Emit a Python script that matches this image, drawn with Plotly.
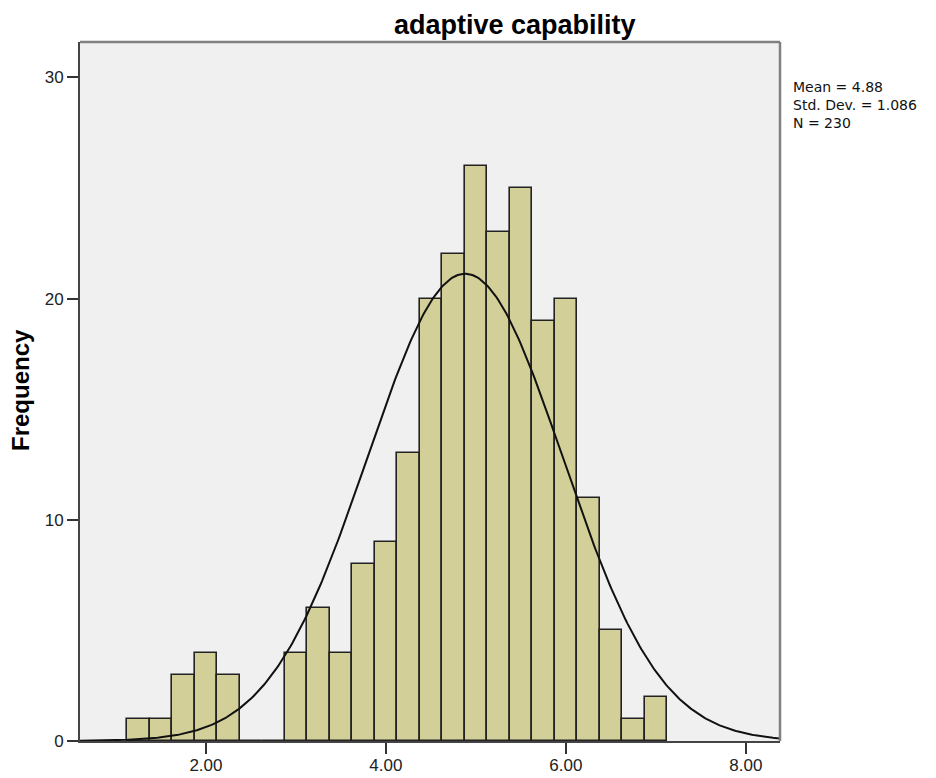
import numpy as np
import plotly.graph_objects as go

# ---- data ----
bin_left_edges = [1.125, 1.375, 1.625, 1.875, 2.125, 2.375, 2.625, 2.875, 3.125, 3.375,
                  3.625, 3.875, 4.125, 4.375, 4.625, 4.875, 5.125, 5.375, 5.625, 5.875,
                  6.125, 6.375, 6.625, 6.875]
frequencies = [1, 1, 3, 4, 3, 0, 0, 4, 6, 4,
               8, 9, 13, 20, 22, 26, 23, 25, 19, 20,
               11, 5, 1, 2]
bin_width = 0.25
mean_val = 4.88
std_val = 1.086
n_val = 230
x_tick_vals = [2, 4, 6, 8]
x_tick_text = ["2.00", "4.00", "6.00", "8.00"]
y_tick_vals = [0, 10, 20, 30]
title_text = "adaptive capability"
y_title = "Frequency"
stats_lines = ["Mean = 4.88", "Std. Dev. = 1.086", "N = 230"]

x_range = [0.6, 8.38]
y_range = [0, 31.6]

centers = [e + bin_width / 2 for e in bin_left_edges]

xc = np.linspace(x_range[0], x_range[1], 400)
yc = n_val * bin_width / (std_val * np.sqrt(2 * np.pi)) * np.exp(-0.5 * ((xc - mean_val) / std_val) ** 2)

FONT = "Liberation Sans, Arial, sans-serif"

fig = go.Figure()
fig.add_trace(go.Bar(
    x=centers, y=frequencies, width=bin_width,
    marker=dict(color="#D3CF98", line=dict(color="#222222", width=1.6)),
    showlegend=False, hoverinfo="x+y",
))
fig.add_trace(go.Scatter(
    x=xc, y=yc, mode="lines", line=dict(color="#111111", width=2),
    showlegend=False, hoverinfo="skip",
))

# page has an 8px body margin; size the figure so its plot area lands where the reference has it
OFF = 8
W, H = 936 - 2 * OFF, 778 - OFF
# target plot area in page pixels: x 80..780, y 42..741
L = 80 - OFF
R = W - (780 - OFF)
T = 42 - OFF
B = H - (741 - OFF)
pw, ph = W - L - R, H - T - B

def px_to_paper_x(px):
    return (px - OFF - L) / pw

def px_to_paper_y(py):
    return (H - B - (py - OFF)) / ph

annotations = [
    dict(text="<b>" + title_text + "</b>", x=px_to_paper_x(515), y=px_to_paper_y(25),
         xref="paper", yref="paper", showarrow=False, xanchor="center", yanchor="middle",
         font=dict(size=27, color="#000000", family=FONT)),
    dict(text="<b>" + y_title + "</b>", x=px_to_paper_x(21), y=px_to_paper_y(390),
         xref="paper", yref="paper", showarrow=False, xanchor="center", yanchor="middle",
         textangle=-90, font=dict(size=24, color="#000000", family=FONT)),
    dict(text="<br>".join(stats_lines), x=px_to_paper_x(791), y=px_to_paper_y(77),
         xref="paper", yref="paper", showarrow=False, xanchor="left", yanchor="top",
         align="left", font=dict(size=14, color="#111111", family="DejaVu Sans, sans-serif")),
]

shapes = [
    dict(type="line", xref="paper", yref="paper", x0=0, x1=1, y0=1, y1=1,
         line=dict(color="#808080", width=2.5)),
    dict(type="line", xref="paper", yref="paper", x0=1, x1=1, y0=0, y1=1,
         line=dict(color="#808080", width=2.5)),
]

fig.update_layout(
    width=W, height=H,
    margin=dict(l=L, r=R, t=T, b=B, pad=0, autoexpand=False),
    paper_bgcolor="#FFFFFF", plot_bgcolor="#F0F0F0",
    bargap=0,
    font=dict(family=FONT, color="#222222", size=17),
    annotations=annotations,
    shapes=shapes,
    xaxis=dict(range=x_range, tickvals=x_tick_vals, ticktext=x_tick_text, automargin=False,
               ticks="outside", ticklen=11, tickwidth=2, tickcolor="#333333",
               ticklabelstandoff=-3,
               showgrid=False, zeroline=False, showline=True, linecolor="#444444",
               linewidth=2, mirror=False, tickfont=dict(size=17, color="#222222")),
    yaxis=dict(range=y_range, tickvals=y_tick_vals, automargin=False,
               ticks="outside", ticklen=11, tickwidth=2, tickcolor="#333333",
               showgrid=False, zeroline=False, showline=True, linecolor="#444444",
               linewidth=2, mirror=False, tickfont=dict(size=17, color="#222222")),
)

fig.write_html("out.html")
